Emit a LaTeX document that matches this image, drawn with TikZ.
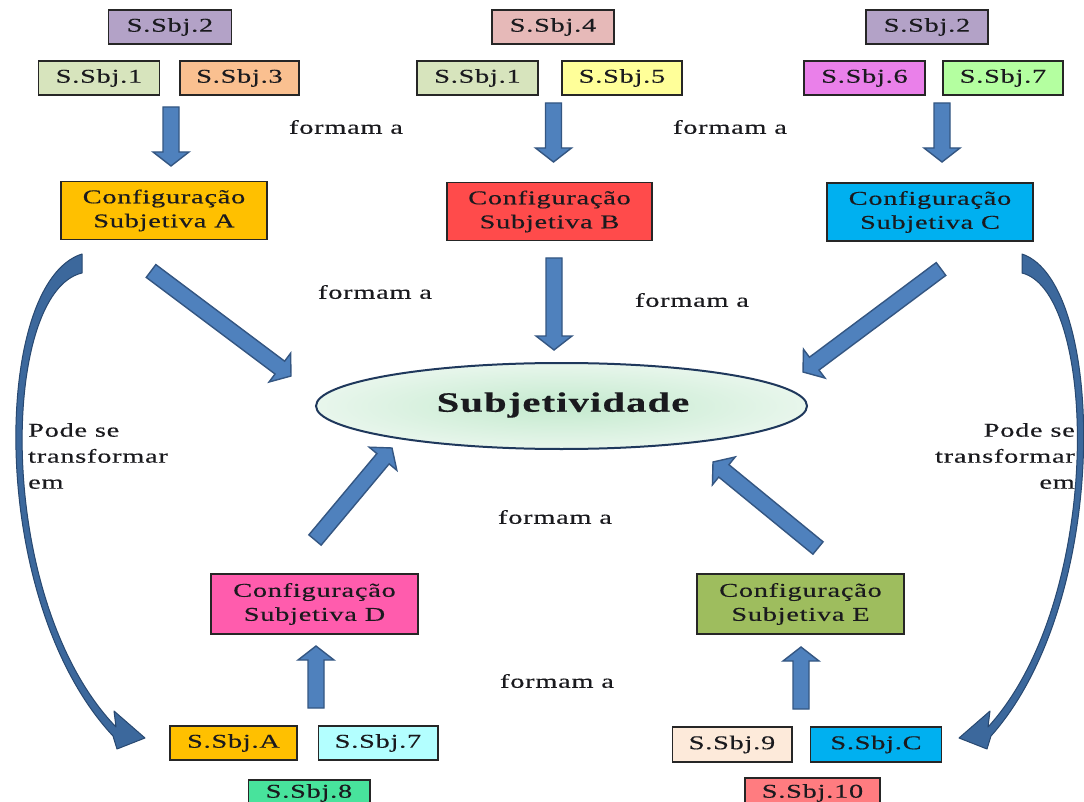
\documentclass[tikz,border=0pt]{standalone}
\usepackage{fontspec}
\setmainfont{Liberation Serif}[FakeStretch=1.45,LetterSpace=4,FakeBold=0.4]
\usetikzlibrary{calc,shapes.geometric}
\definecolor{ink}{RGB}{26,26,30}
\definecolor{boxline}{RGB}{38,38,38}
\definecolor{arrowfill}{RGB}{79,129,189}
\definecolor{arrowline}{RGB}{52,86,130}
\definecolor{curvefill}{RGB}{60,104,156}
\definecolor{curveline}{RGB}{40,72,112}
\definecolor{ellin}{RGB}{196,234,206}
\definecolor{ellout}{RGB}{232,246,236}
\definecolor{ellline}{RGB}{31,56,92}
\definecolor{lavender}{RGB}{179,162,199}
\definecolor{sage}{RGB}{215,228,189}
\definecolor{peach}{RGB}{250,192,144}
\definecolor{rose}{RGB}{230,185,184}
\definecolor{lemon}{RGB}{255,255,153}
\definecolor{orchid}{RGB}{234,128,234}
\definecolor{mint}{RGB}{180,255,160}
\definecolor{amber}{RGB}{255,192,0}
\definecolor{redcfg}{RGB}{255,75,75}
\definecolor{sky}{RGB}{0,176,240}
\definecolor{pinkcfg}{RGB}{255,92,173}
\definecolor{olive}{RGB}{158,189,94}
\definecolor{aqua}{RGB}{179,255,255}
\definecolor{jade}{RGB}{72,227,156}
\definecolor{linen}{RGB}{253,234,218}
\definecolor{salmon}{RGB}{255,124,128}
\tikzset{
  base/.style={font=\fontsize{19.5}{24}\selectfont, text=ink, align=center, inner sep=0pt},
  box/.style={base, rectangle, draw=boxline, line width=1.5pt, minimum height=34pt, minimum width=121pt},
  cfg/.style={box, minimum width=206pt, minimum height=58pt},
  lbl/.style={base},
  arr/.style={fill=arrowfill, draw=arrowline, line width=1.4pt, line join=miter,
    to path={($(\tikztostart)!8pt!90:(\tikztotarget)$)
      -- ($(\tikztotarget)!14pt!(\tikztostart)!8pt!-90:(\tikztostart)$)
      -- ($(\tikztotarget)!14pt!(\tikztostart)!18pt!-90:(\tikztostart)$)
      -- (\tikztotarget)
      -- ($(\tikztotarget)!14pt!(\tikztostart)!18pt!90:(\tikztostart)$)
      -- ($(\tikztotarget)!14pt!(\tikztostart)!8pt!90:(\tikztostart)$)
      -- ($(\tikztostart)!8pt!-90:(\tikztotarget)$) -- cycle}},
  curv/.style={fill=curvefill, draw=curveline, line width=1pt, line join=round},
}

\begin{document}
\begin{tikzpicture}[x=1pt,y=-1pt]
  \fill[white] (0,0) rectangle (1084,802);
  \useasboundingbox (0,0) rectangle (1084,802);
  % top left group
  \node[box, fill=lavender, minimum width=123pt] (s2a) at (170,27) {S.Sbj.2};
  \node[box, fill=sage] (s1a) at (99,78) {S.Sbj.1};
  \node[box, fill=peach, minimum width=119pt] (s3a) at (239.5,78) {S.Sbj.3};
  \node[cfg, fill=amber] (cfgA) at (164,210.5) {Configuração\\Subjetiva A};
  % top middle group
  \node[box, fill=rose, minimum width=122pt] (s4b) at (553,27) {S.Sbj.4};
  \node[box, fill=sage] (s1b) at (477.5,78) {S.Sbj.1};
  \node[box, fill=lemon, minimum width=120pt] (s5b) at (622,78) {S.Sbj.5};
  \node[cfg, fill=redcfg, minimum width=205pt] (cfgB) at (549.5,211.5) {Configuração\\Subjetiva B};
  % top right group
  \node[box, fill=lavender, minimum width=122pt] (s2c) at (927,27) {S.Sbj.2};
  \node[box, fill=orchid] (s6c) at (864.5,78) {S.Sbj.6};
  \node[box, fill=mint, minimum width=120pt] (s7c) at (1003,78) {S.Sbj.7};
  \node[cfg, fill=sky] (cfgC) at (930,212) {Configuração\\Subjetiva C};
  % centre
  \node[ellipse, draw=ellline, line width=2pt, inner color=ellin, outer color=ellout,
        minimum width=491pt, minimum height=86pt, inner sep=0pt] (subj) at (561.5,406) {};
  \node[base, font=\fontsize{28}{32}\selectfont\bfseries] (subjtxt) at (563,405) {Subjetividade};
  % bottom groups
  \node[cfg, fill=pinkcfg, minimum width=207pt, minimum height=60pt] (cfgD) at (314.5,604) {Configuração\\Subjetiva D};
  \node[box, fill=amber, minimum width=127pt] (sAd) at (233.5,743) {S.Sbj.A};
  \node[box, fill=aqua, minimum width=119.5pt] (s7d) at (378,743) {S.Sbj.7};
  \node[box, fill=jade, minimum width=121.5pt, minimum height=26pt] (s8d) at (309,793) {S.Sbj.8};
  \node[cfg, fill=olive, minimum width=207pt, minimum height=60pt] (cfgE) at (800.5,604) {Configuração\\Subjetiva E};
  \node[box, fill=linen, minimum width=119.5pt, minimum height=35pt] (s9e) at (732,744.5) {S.Sbj.9};
  \node[box, fill=sky, minimum width=131pt, minimum height=35pt] (sCe) at (876,744.5) {S.Sbj.C};
  \node[box, fill=salmon, minimum width=135pt, minimum height=30pt] (s10e) at (812.5,793) {S.Sbj.10};
  % labels
  \node[lbl] (fA) at (346,127) {formam a};
  \node[lbl] (fB) at (730,127) {formam a};
  \node[lbl] (fL) at (375,292) {formam a};
  \node[lbl] (fR) at (692,300) {formam a};
  \node[lbl] (fM) at (555,517) {formam a};
  \node[lbl] (fD) at (557,681) {formam a};
  \node[base, align=left, anchor=west, font=\fontsize{19.5}{26}\selectfont] (pL) at (28,456) {Pode se\\transformar\\em};
  \node[base, align=right, anchor=east, font=\fontsize{19.5}{26}\selectfont] (pR) at (1075,456) {Pode se\\transformar\\em};
  % block arrows
  \coordinate (tA) at (171,107);   \coordinate (hA) at (171,166);
  \coordinate (tB) at (553.5,103); \coordinate (hB) at (553.5,162);
  \coordinate (tC) at (942,103);   \coordinate (hC) at (942,162);
  \coordinate (tBs) at (554,258);  \coordinate (hBs) at (554,350);
  \coordinate (tAs) at (151,271);  \coordinate (hAs) at (291,376);
  \coordinate (tCs) at (941,269);  \coordinate (hCs) at (803,372);
  \coordinate (tD) at (316,708);   \coordinate (hD) at (316,646);
  \coordinate (tE) at (801,709);   \coordinate (hE) at (801,647);
  \coordinate (tDs) at (315,540);  \coordinate (hDs) at (392,448);
  \coordinate (tEs) at (818,548);  \coordinate (hEs) at (713,462);
  \path[arr] (tA) to (hA);
  \path[arr] (tB) to (hB);
  \path[arr] (tC) to (hC);
  \path[arr] (tBs) to (hBs);
  \path[arr] (tAs) to (hAs);
  \path[arr] (tCs) to (hCs);
  \path[arr] (tD) to (hD);
  \path[arr] (tE) to (hE);
  \path[arr] (tDs) to (hDs);
  \path[arr] (tEs) to (hEs);
  % curved arrows
  \path[curv] (82,254) .. controls (-8,282) and (-14,600) .. (113,736) -- (117,749) -- (145,738)
    -- (114,711) -- (116,727) .. controls (-6,600) and (0,292) .. (82,273) -- cycle;
  \path[curv] (1022,254) .. controls (1106,282) and (1112,600) .. (991,736) -- (987,749) -- (959,738)
    -- (990,711) -- (988,727) .. controls (1104,600) and (1098,292) .. (1022,273) -- cycle;
\end{tikzpicture}
\end{document}
